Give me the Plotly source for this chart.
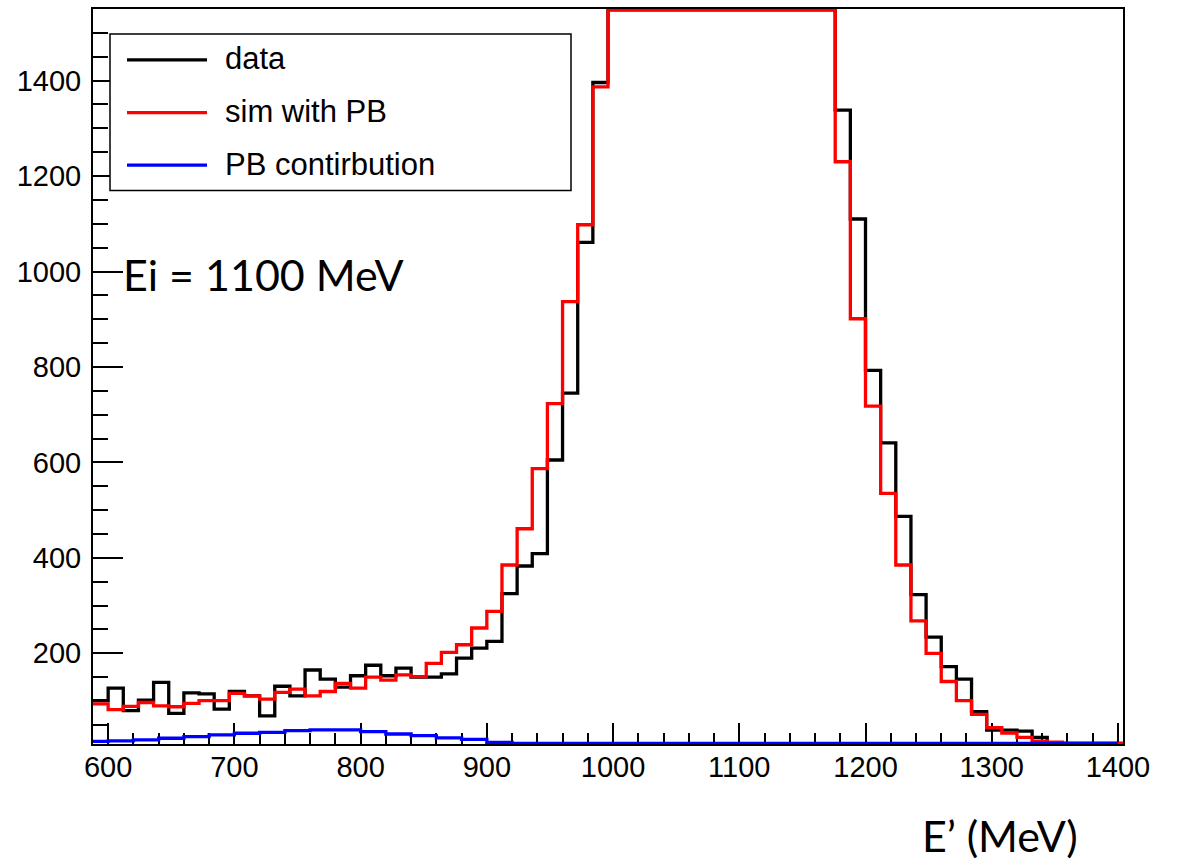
import numpy as np
import plotly.graph_objects as go

# ---------------- data ----------------
# 12 MeV bins from 588 to 1404 MeV (68 bins) for data and simulation
bin_start = 588
bin_width = 12
n_bins = 68

data_counts = [101, 127, 80, 102, 139, 74, 117, 115, 83, 120,
               111, 69, 131, 111, 165, 146, 129, 153, 175, 153,
               169, 150, 150, 157, 190, 211, 225, 325, 383, 409,
               605, 745, 1061, 1396,
               # peak bins, off-scale in the reference (estimated)
               1780, 2200, 2650, 3100, 3500, 3800, 3980, 4020, 3940, 3720,
               3400, 3000, 2550, 2100, 1720,
               1338, 1110, 793, 641, 487, 323, 234, 172, 146, 78,
               39, 39, 37, 24, 13, 9, 6, 4, 3]

sim_counts = [94, 82, 89, 97, 90, 88, 95, 101, 101, 116,
              111, 104, 118, 125, 111, 120, 137, 127, 150, 144,
              155, 151, 179, 202, 218, 253, 288, 385, 461, 587,
              723, 937, 1098, 1387,
              # peak bins, off-scale in the reference (estimated)
              1750, 2150, 2600, 3050, 3450, 3750, 3950, 4000, 3950, 3750,
              3450, 3050, 2600, 2150, 1700,
              1230, 901, 718, 535, 385, 268, 200, 141, 101, 72,
              44, 33, 24, 16, 14, 8, 5, 3, 2]

# PB contribution: 20 MeV bins from 580 to 1400 MeV (41 bins)
pb_start = 580
pb_width = 20
pb_counts = [15.5, 16.5, 18.5, 22, 25.5, 29, 32.5, 34.5, 38, 39.5,
             39.5, 36, 31, 27.5, 23, 19.5, 13.5, 11.5, 9.5, 8,
             7, 6, 5, 4, 3, 3, 2, 2, 1, 1,
             1, 1, 1, 0.5, 0.5, 0.5, 0.5, 0.5, 0.5, 0.5, 0.5]

series_names = ["data", "sim with PB", "PB contirbution"]
series_colors = ["#000000", "#ff0000", "#0000ff"]

x_range = [588, 1404]
y_range = [10, 1550]

# ---------------- helpers ----------------
def step_trace(start, width, counts, name, color):
    counts = np.asarray(counts, dtype=float)
    edges = start + width * np.arange(len(counts) + 1)
    # draw like ROOT: values outside the frame are drawn on the frame edge
    shown = np.clip(counts, y_range[0] + 1, y_range[1] - 2)
    y = np.append(shown, shown[-1])
    return go.Scatter(x=edges, y=y, mode="lines", line_shape="hv",
                      line=dict(color=color, width=3.3), name=name,
                      showlegend=False, hoverinfo="skip")

fig = go.Figure()
fig.add_trace(step_trace(bin_start, bin_width, data_counts, series_names[0], series_colors[0]))
fig.add_trace(step_trace(bin_start, bin_width, sim_counts, series_names[1], series_colors[1]))
fig.add_trace(step_trace(pb_start, pb_width, pb_counts, series_names[2], series_colors[2]))

tick_font = dict(family="Liberation Sans, Arial, Helvetica, sans-serif", size=29, color="black")

fig.update_layout(
    width=1178, height=865,
    margin=dict(l=93, r=55, t=7, b=121),
    paper_bgcolor="white", plot_bgcolor="white",
    showlegend=False,
    xaxis=dict(range=x_range, tick0=600, dtick=100, ticks="inside", ticklen=21,
               tickwidth=1.5, tickcolor="black", showline=True, linewidth=2,
               linecolor="black", mirror=True, showgrid=False, zeroline=False,
               tickfont=tick_font, layer="below traces", ticklabelstandoff=-4,
               minor=dict(tick0=600, dtick=20, ticks="inside", ticklen=11,
                          tickwidth=1.5, tickcolor="black", showgrid=False)),
    yaxis=dict(range=y_range, tick0=0, dtick=200, ticks="inside", ticklen=30,
               tickwidth=1.5, tickcolor="black", showline=True, linewidth=2,
               linecolor="black", mirror=True, showgrid=False, zeroline=False,
               tickfont=tick_font, layer="below traces", ticklabelstandoff=4,
               minor=dict(tick0=0, dtick=50, ticks="inside", ticklen=15,
                          tickwidth=1.5, tickcolor="black", showgrid=False)),
)

# ---------------- legend box (drawn by hand to match ROOT's TLegend) ----------------
plot_l, plot_t, plot_w, plot_h = 93, 7, 1030, 737
def px_x(px):
    return (px - plot_l) / plot_w
def px_y(py):
    return (plot_t + plot_h - py) / plot_h

fig.add_shape(type="rect", xref="paper", yref="paper",
              x0=px_x(110), x1=px_x(571), y0=px_y(189), y1=px_y(32),
              line=dict(color="black", width=1.5), fillcolor="white", layer="above")
row_y = [57, 110, 162.5]
for name, color, ry in zip(series_names, series_colors, row_y):
    fig.add_shape(type="line", xref="paper", yref="paper",
                  x0=px_x(127), x1=px_x(207), y0=px_y(ry + 1), y1=px_y(ry + 1),
                  line=dict(color=color, width=3.3), layer="above")
    fig.add_annotation(xref="paper", yref="paper", x=px_x(223), y=px_y(ry),
                       xanchor="left", yanchor="middle", showarrow=False,
                       text=name, font=dict(family="Liberation Sans, Arial, sans-serif",
                                            size=31, color="black"))

# ---------------- text labels ----------------
big_font = dict(family="Lato, Open Sans, sans-serif", size=43, color="black")
fig.add_annotation(xref="paper", yref="paper", x=px_x(121), y=px_y(273),
                   xanchor="left", yanchor="middle", showarrow=False,
                   text="Ei = 1100 MeV", font=big_font)
fig.add_annotation(xref="paper", yref="paper", x=px_x(1000), y=px_y(836),
                   xanchor="center", yanchor="middle", showarrow=False,
                   text="E\u2019 (MeV)", font=big_font)

fig.write_html("out.html")
